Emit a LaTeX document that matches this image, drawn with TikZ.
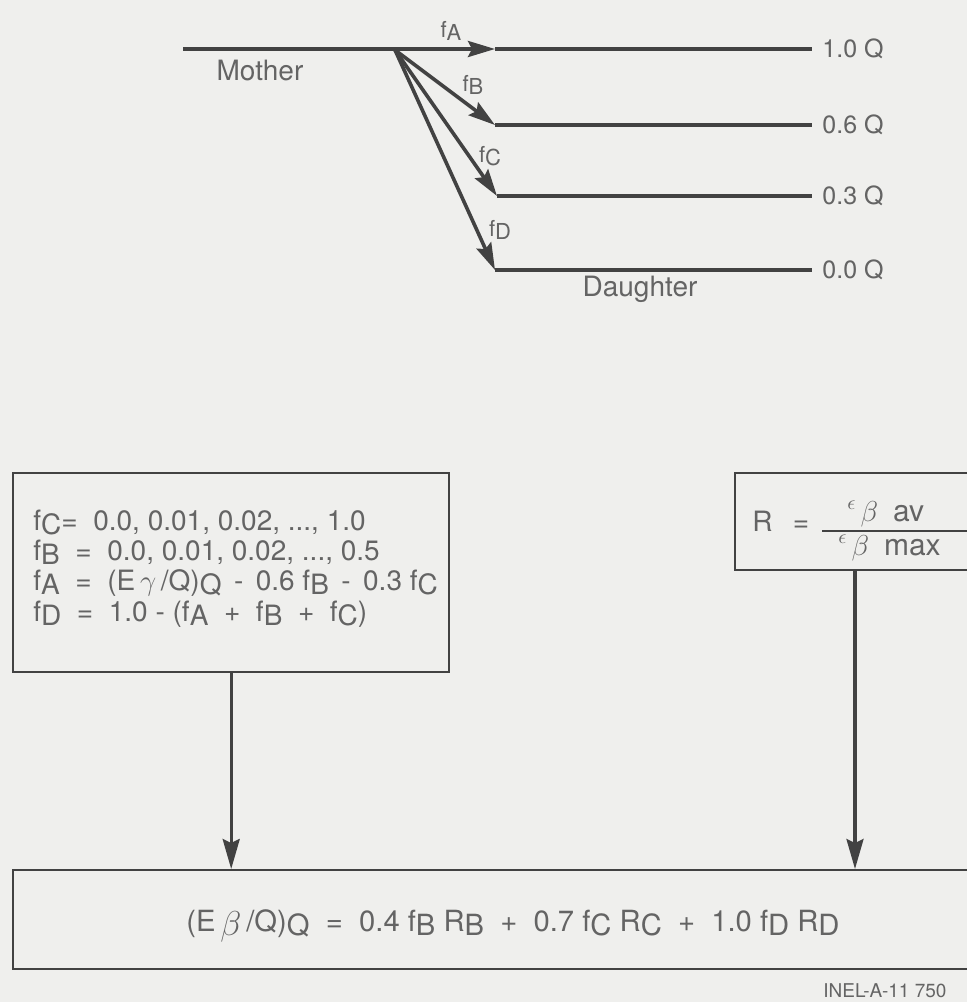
\documentclass[tikz,border=0pt]{standalone}
\usepackage{fontspec}
\setmainfont{TeX Gyre Heros}
\usetikzlibrary{arrows.meta}
\definecolor{bg}{RGB}{239,239,237}
\definecolor{ink}{RGB}{66,66,66}
\definecolor{txt}{RGB}{100,100,100}
\newcommand{\lsub}[1]{\raisebox{-0.3ex}{#1}}
\newcommand{\bigbeta}{{\fontsize{14}{14}\selectfont$\beta$}}
\newcommand{\epsb}{\raisebox{0.75ex}{\fontsize{10}{10}\selectfont$\epsilon$}\,\bigbeta}
\begin{document}
\begin{tikzpicture}[x=0.5pt,y=-0.5pt,
  mainline/.style={draw=ink, line width=1.8pt},
  arr/.style={mainline, -{Stealth[length=13.5pt,width=8pt,inset=2pt]}},
  varr/.style={draw=ink, line width=1.6pt, -{Stealth[length=15pt,width=8.5pt,inset=2pt]}},
  boxline/.style={draw=ink, line width=1.2pt},
  bx/.style={boxline, inner sep=0pt, anchor=north west},
  lab/.style={text=txt, inner sep=0pt, font=\fontsize{14}{16}\selectfont},
  flab/.style={text=txt, inner sep=0pt, font=\fontsize{14}{16}\selectfont, text depth=0pt},
  qlab/.style={text=txt, inner sep=0pt, font=\fontsize{12.5}{14}\selectfont},
  slab/.style={text=txt, inner sep=0pt, font=\fontsize{11}{13}\selectfont},
  idlab/.style={text=txt, inner sep=0pt, font=\fontsize{9.5}{11}\selectfont}]
\useasboundingbox (0,0) rectangle (967,1002);
\fill[bg] (0,0) rectangle (967,1002);
\clip (0,0) rectangle (967,1002);

% ---- decay scheme
\coordinate (m0) at (183,49);
\coordinate (br) at (395,50);
\coordinate (tA) at (495,49);
\coordinate (eA) at (812,49);
\coordinate (tB) at (495,125);
\coordinate (eB) at (812,125);
\coordinate (tC) at (497,196);
\coordinate (eC) at (812,196);
\coordinate (tD) at (495,270);
\coordinate (eD) at (812,270);

\draw[arr] (m0) -- (tA);
\draw[mainline] (tA) -- (eA);
\draw[arr] (br) -- (tB);
\draw[mainline] (tB) -- (eB);
\draw[arr] (br) -- (tC);
\draw[mainline] (tC) -- (eC);
\draw[arr] (br) -- (tD);
\draw[mainline] (tD) -- (eD);

\node[qlab, anchor=west] (qA) at ([xshift=5pt]eA) {1.0 Q};
\node[qlab, anchor=west] (qB) at ([xshift=5pt]eB) {0.6 Q};
\node[qlab, anchor=west] (qC) at ([xshift=5pt]eC) {0.3 Q};
\node[qlab, anchor=west] (qD) at ([xshift=5pt]eD) {0.0 Q};

\node[lab] (mother) at (260,70) {Mother};
\node[lab] (daughter) at (640,289) {Daughter};

\node[slab] (fa) at (451,31) {f\lsub{A}};
\node[slab] (fb) at (473,85) {f\lsub{B}};
\node[slab] (fc) at (490,156) {f\lsub{C}};
\node[slab] (fd) at (500,230) {f\lsub{D}};

% ---- boxes
\node[bx, minimum width=218pt, minimum height=99.5pt] (lb) at (12,472) {};
\node[bx, minimum width=130pt, minimum height=48.5pt] (rb) at (734,472) {};
\node[bx, minimum width=495pt, minimum height=49.5pt] (bb) at (12,869) {};

\node[flab, anchor=base west] (l1) at (33,530) {f\lsub{C}= \ 0.0, 0.01, 0.02, ..., 1.0};
\node[flab, anchor=base west] (l2) at (33,560) {f\lsub{B} \ = \ 0.0, 0.01, 0.02, ..., 0.5};
\node[flab, anchor=base west] (l3) at (33,590) {f\lsub{A} \ = \ (E\,$\gamma$\,/Q)\lsub{Q} \,-\, 0.6 f\lsub{B} \,-\, 0.3 f\lsub{C}};
\node[flab, anchor=base west] (l4) at (33,621) {f\lsub{D} \ = \ 1.0 - (f\lsub{A} \ + \ f\lsub{B} \ + \ f\lsub{C})};

\node[lab, anchor=base west] (rr) at (752,531) {R \ \,=};
\coordinate (barL) at (822,531);
\coordinate (barR) at (990,531);
\draw[boxline] (barL) -- (barR);
\node[lab, anchor=base west, font=\fontsize{15}{17}\selectfont, text depth=0pt] (num) at (847,521) {\epsb\enspace av};
\node[lab, anchor=base west, font=\fontsize{15}{17}\selectfont] (den) at (838,555) {\epsb\enspace max};

\node[lab, anchor=base west, font=\fontsize{14.6}{17}\selectfont] (form) at (186,931) {(E\,\lsub{\fontsize{16}{16}\selectfont$\beta$}\,/Q)\lsub{Q} \ = \ 0.4 f\lsub{B} R\lsub{B} \ + \ 0.7 f\lsub{C} R\lsub{C} \ + \ 1.0 f\lsub{D} R\lsub{D}};

\coordinate (rx) at (855,0);
\draw[varr] (lb.south) -- (lb.south |- bb.north);
\draw[varr] (rb.south -| rx) -- (bb.north -| rx);

\node[idlab, anchor=base west] (id) at (823,997) {INEL-A-11 750};
\end{tikzpicture}
\end{document}
